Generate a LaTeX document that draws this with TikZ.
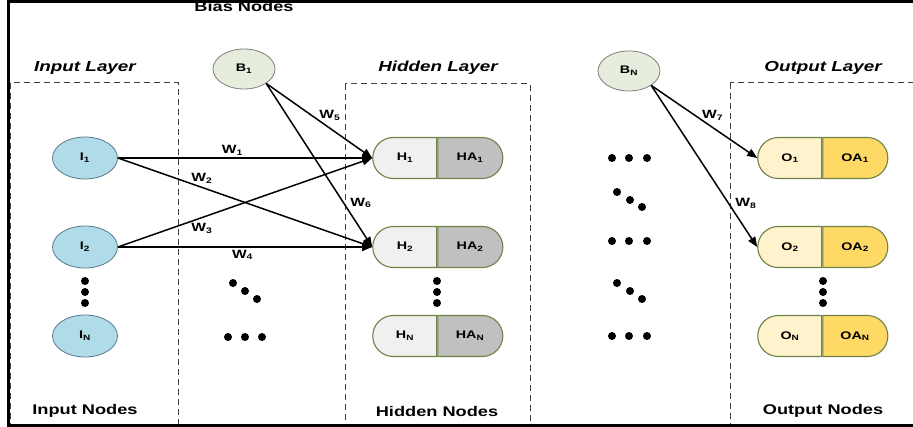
\documentclass[tikz,border=0pt]{standalone}
\usepackage{fontspec}
\setmainfont{Liberation Sans}[FakeStretch=1.3]
\usetikzlibrary{positioning, arrows.meta, shapes.geometric, shapes.misc}

\definecolor{inputfill}{RGB}{175,220,232}
\definecolor{inputedge}{RGB}{90,120,138}
\definecolor{biasfill}{RGB}{231,237,220}
\definecolor{biasedge}{RGB}{125,125,125}
\definecolor{pilledge}{RGB}{110,130,70}
\definecolor{hidfill}{RGB}{240,240,240}
\definecolor{hidact}{RGB}{192,192,192}
\definecolor{outfill}{RGB}{255,242,204}
\definecolor{outact}{RGB}{255,217,102}

\tikzset{
  inode/.style={ellipse, draw=inputedge, fill=inputfill, line width=0.8pt,
                minimum width=65pt, minimum height=42pt, inner sep=0pt,
                font=\fontsize{11}{12}\selectfont\bfseries},
  bnode/.style={ellipse, draw=biasedge, fill=biasfill, line width=0.8pt,
                minimum width=62pt, minimum height=40pt, inner sep=0pt,
                font=\fontsize{11}{12}\selectfont\bfseries},
  lefthalf/.style={rounded rectangle, rounded rectangle right arc=none,
                draw=pilledge, line width=1.1pt, minimum width=64pt,
                minimum height=41pt, inner sep=0pt,
                font=\fontsize{11}{12}\selectfont\bfseries},
  righthalf/.style={rounded rectangle, rounded rectangle left arc=none,
                draw=pilledge, line width=1.1pt, minimum width=65pt,
                minimum height=41pt, inner sep=0pt,
                font=\fontsize{11}{12}\selectfont\bfseries},
  wire/.style={-{Triangle[length=10pt,width=8pt]}, line width=1.5pt},
  wlabel/.style={font=\fontsize{12}{13}\selectfont\bfseries, inner sep=2pt},
  layerbox/.style={dash pattern=on 6pt off 4pt, draw=black!75, line width=1pt},
  title/.style={font=\fontsize{14.5}{16}\selectfont\bfseries\itshape},
  caption/.style={font=\fontsize{14}{16}\selectfont\bfseries}
}

\begin{document}
\begin{tikzpicture}[x=1pt, y=-1pt]
  \useasboundingbox (0,0) rectangle (913,427);

  % dashed layer frames
  \draw[layerbox] (10,83) rectangle (178,425);
  \draw[layerbox] (345,84) rectangle (530,425);
  \draw[layerbox] (730,83) rectangle (940,425);

  % headings and footers
  \node[caption] (cbias) at (244,7) {Bias Nodes};
  \node[title] (tin) at (85,68) {Input Layer};
  \node[title] (thid) at (438,68) {Hidden Layer};
  \node[title] (tout) at (823,68) {Output Layer};
  \node[caption] (cin) at (85,411) {Input Nodes};
  \node[caption] (chid) at (437,411) {Hidden Nodes};
  \node[caption] (cout) at (823,411) {Output Nodes};

  % outer frame (open on the right)
  \draw[line width=3pt] (940,1.5) -- (8.5,1.5) -- (8.5,425.5) -- (940,425.5);

  % input nodes
  \node[inode] (I1) at (85,158) {I\textsubscript{1}};
  \node[inode] (I2) at (85,247) {I\textsubscript{2}};
  \node[inode] (IN) at (85,336) {I\textsubscript{N}};

  % bias nodes
  \node[bnode] (B1) at (244,69) {B\textsubscript{1}};
  \node[bnode] (BN) at (629,71) {B\textsubscript{N}};

  % hidden nodes
  \node[lefthalf, fill=hidfill] (H1) at (405,158) {H\textsubscript{1}};
  \node[righthalf, fill=hidact, right=0pt of H1] (HA1) {HA\textsubscript{1}};
  \node[lefthalf, fill=hidfill] (H2) at (405,247) {H\textsubscript{2}};
  \node[righthalf, fill=hidact, right=0pt of H2] (HA2) {HA\textsubscript{2}};
  \node[lefthalf, fill=hidfill] (HN) at (405,336) {H\textsubscript{N}};
  \node[righthalf, fill=hidact, right=0pt of HN] (HAN) {HA\textsubscript{N}};

  % output nodes
  \node[lefthalf, fill=outfill] (O1) at (790,158) {O\textsubscript{1}};
  \node[righthalf, fill=outact, right=0pt of O1] (OA1) {OA\textsubscript{1}};
  \node[lefthalf, fill=outfill] (O2) at (790,247) {O\textsubscript{2}};
  \node[righthalf, fill=outact, right=0pt of O2] (OA2) {OA\textsubscript{2}};
  \node[lefthalf, fill=outfill] (ON) at (790,336) {O\textsubscript{N}};
  \node[righthalf, fill=outact, right=0pt of ON] (OAN) {OA\textsubscript{N}};

  % vertical ellipsis dots
  \foreach \y in {281,292,303} {
    \fill (85,\y) circle (4pt);
    \fill (437,\y) circle (4pt);
    \fill (823,\y) circle (4pt);
  }

  % ellipsis dots between the layers
  \foreach \x/\y in {233/283, 245/291, 257/299, 228/337, 245/337, 262/337,
                     612/158, 629/158, 647/158, 617/192, 630/200, 642/207,
                     612/241, 629/241, 647/241, 617/283, 630/291, 642/299,
                     612/336, 629/336, 647/336}
    \fill (\x,\y) circle (4pt);

  % weighted connections
  \draw[wire] (I1.east) -- node[wlabel, pos=0.45, above] {W\textsubscript{1}} (H1.west);
  \draw[wire] (I1.east) -- node[wlabel, pos=0.33, above=1pt] {W\textsubscript{2}} (H2.west);
  \draw[wire] (I2.east) -- node[wlabel, pos=0.33, below=3pt] {W\textsubscript{3}} (H1.west);
  \draw[wire] (I2.east) -- node[wlabel, pos=0.49, below] {W\textsubscript{4}} (H2.west);
  \draw[wire] (B1.south east) -- node[wlabel, pos=0.6, above=5pt] {W\textsubscript{5}} (H1.west);
  \draw[wire] (B1.south east) -- node[wlabel, pos=0.73, right=4pt] {W\textsubscript{6}} (H2.west);
  \draw[wire] (BN.south east) -- node[wlabel, pos=0.58, above=4pt] {W\textsubscript{7}} (O1.west);
  \draw[wire] (BN.south east) -- node[wlabel, pos=0.73, right=4pt] {W\textsubscript{8}} (O2.west);

\end{tikzpicture}
\end{document}
